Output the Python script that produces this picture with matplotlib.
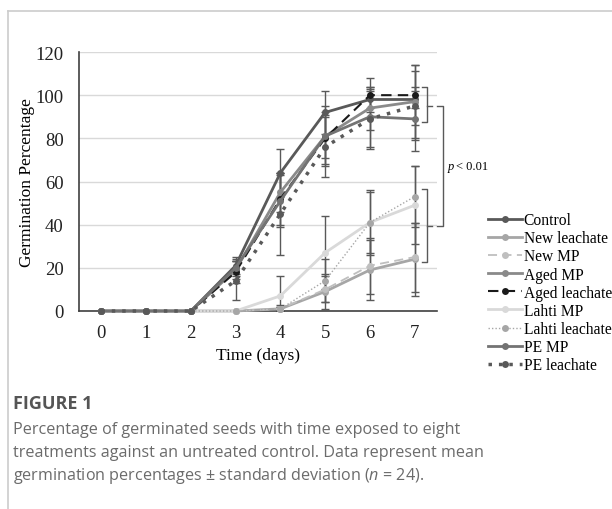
import numpy as np
import matplotlib.pyplot as plt

days = [0, 1, 2, 3, 4, 5, 6, 7]

names = ["Control", "New leachate", "New MP", "Aged MP", "Aged leachate",
         "Lahti MP", "Lahti leachate", "PE MP", "PE leachate"]

control = [0, 0, 0, 21, 64, 92, 98, 98]
new_leachate = [0, 0, 0, 0, 1, 9, 19, 24]
new_mp = [0, 0, 0, 0, 1, 10, 21, 25]
aged_mp = [0, 0, 0, 19, 55, 81, 94, 97]
aged_leachate = [0, 0, 0, 18, 52, 80, 100, 100]
lahti_mp = [0, 0, 0, 0, 7, 27, 41, 49]
lahti_leachate = [0, 0, 0, 0, 1, 14, 41, 53]
pe_mp = [0, 0, 0, 20, 51, 81, 90, 89]
pe_leachate = [0, 0, 0, 14, 45, 76, 89, 95]

control_sd = [0, 0, 0, 4, 11, 10, 4, 4]
new_leachate_sd = [0, 0, 0, 0, 1, 8, 14, 17]
new_mp_sd = [0, 0, 0, 0, 1, 6, 13, 16]
aged_mp_sd = [0, 0, 0, 4, 9, 14, 10, 17]
aged_leachate_sd = [0, 0, 0, 5, 12, 12, 8, 14]
lahti_mp_sd = [0, 0, 0, 0, 9, 17, 15, 18]
lahti_leachate_sd = [0, 0, 0, 0, 2, 10, 14, 14]
pe_mp_sd = [0, 0, 0, 4, 12, 10, 14, 15]
pe_leachate_sd = [0, 0, 0, 9, 19, 14, 14, 16]

means = [control, new_leachate, new_mp, aged_mp, aged_leachate,
         lahti_mp, lahti_leachate, pe_mp, pe_leachate]
sds = [control_sd, new_leachate_sd, new_mp_sd, aged_mp_sd, aged_leachate_sd,
       lahti_mp_sd, lahti_leachate_sd, pe_mp_sd, pe_leachate_sd]

# colour, linestyle, linewidth
styles = [
    ("#595959", "-", 2.0),
    ("#a6a6a6", "-", 2.0),
    ("#bfbfbf", (0, (5, 3)), 1.3),
    ("#8a8a8a", "-", 2.0),
    ("#1a1a1a", (0, (5, 3)), 1.5),
    ("#d9d9d9", "-", 2.0),
    ("#a6a6a6", (0, (1, 1.5)), 1.0),
    ("#737373", "-", 2.0),
    ("#595959", (0, (1, 2)), 2.5),
]

plt.rcParams['font.family'] = ['Liberation Serif', 'DejaVu Serif']
plt.rcParams['mathtext.fontset'] = 'custom'
plt.rcParams['mathtext.it'] = 'Open Sans:italic'
plt.rcParams['mathtext.rm'] = 'Open Sans'

fig = plt.figure(figsize=(6.12, 5.10), dpi=100)
ax = fig.add_axes([79 / 612, 198 / 510, 358 / 612, 259 / 510])

x = np.array(days)
for m, s, (c, ls, lw) in zip(means, sds, styles):
    m = np.array(m, dtype=float)
    s = np.array(s, dtype=float)
    k = s > 0
    ax.errorbar(x[k], m[k], yerr=s[k], fmt='none', ecolor="#595959",
                elinewidth=1, capsize=3, capthick=1, zorder=2)

for name, m, (c, ls, lw) in zip(names, means, styles):
    ax.plot(days, m, color=c, linestyle=ls, linewidth=lw, marker='o',
            markersize=5, markeredgewidth=0, label=name, zorder=3,
            clip_on=False)

ax.set_xlim(-0.5, 7.5)
ax.set_ylim(0, 120)
ax.set_xticks(days)
ax.set_yticks(range(0, 121, 20))
ax.tick_params(length=0, labelsize=13.5, colors="#222222")
ax.tick_params(axis='y', pad=11)
ax.tick_params(axis='x', pad=9)
ax.grid(axis='y', color="#d9d9d9", linewidth=1)
ax.set_axisbelow(True)
for sp in ["top", "right"]:
    ax.spines[sp].set_visible(False)
for sp in ["left", "bottom"]:
    ax.spines[sp].set_color("#404040")
    ax.spines[sp].set_linewidth(1.2)
ax.set_xlabel("Time (days)", fontsize=12.5, labelpad=5)
ax.set_ylabel("Germination Percentage", fontsize=12.5, labelpad=0.5)

# significance brackets
br = dict(color="#595959", linewidth=1, clip_on=False)
ax.plot([7.16, 7.27, 7.27, 7.16], [103.8, 103.8, 87.6, 87.6], **br)
ax.plot([7.27, 7.38], [95, 95], **br)
ax.plot([7.16, 7.27, 7.27, 7.16], [56.5, 56.5, 22.7, 22.7], **br)
ax.plot([7.27, 7.38], [39.4, 39.4], **br)
ax.plot([7.51, 7.64, 7.64, 7.51], [95, 95, 39.4, 39.4], **br)
ax.text(7.74, 67, "p", style='italic', fontsize=9, va='center', clip_on=False)
ax.text(7.93, 67, "< 0.01", fontsize=9, va='center', clip_on=False)

fig.legend(loc='upper left', bbox_to_anchor=(488 / 612, 1 - 213 / 510),
           frameon=False, fontsize=11.2, borderpad=0, handletextpad=0.1,
           handlelength=2.2, labelspacing=0.14, borderaxespad=0)

# card border and caption
fig.add_artist(plt.Line2D([8 / 612, 1], [1 - 12 / 510, 1 - 12 / 510],
                          color="#cccccc", linewidth=1.2))
fig.add_artist(plt.Line2D([8 / 612, 8 / 612], [0, 1 - 12 / 510],
                          color="#cccccc", linewidth=1.2))

fig.text(13 / 612, 1 - 404 / 510, "FIGURE 1", family="Open Sans",
         weight='bold', fontsize=13, color="#555555", va='center')
caption = ["Percentage of germinated seeds with time exposed to eight",
           "treatments against an untreated control. Data represent mean",
           "germination percentages ± standard deviation ($n$ = 24)."]
for i, line in enumerate(caption):
    fig.text(13 / 612, 1 - (430 + 23 * i) / 510, line, family="Open Sans",
             fontsize=11.6, color="#6b6b6b", va='center')

fig.savefig("out.png", dpi=100)
